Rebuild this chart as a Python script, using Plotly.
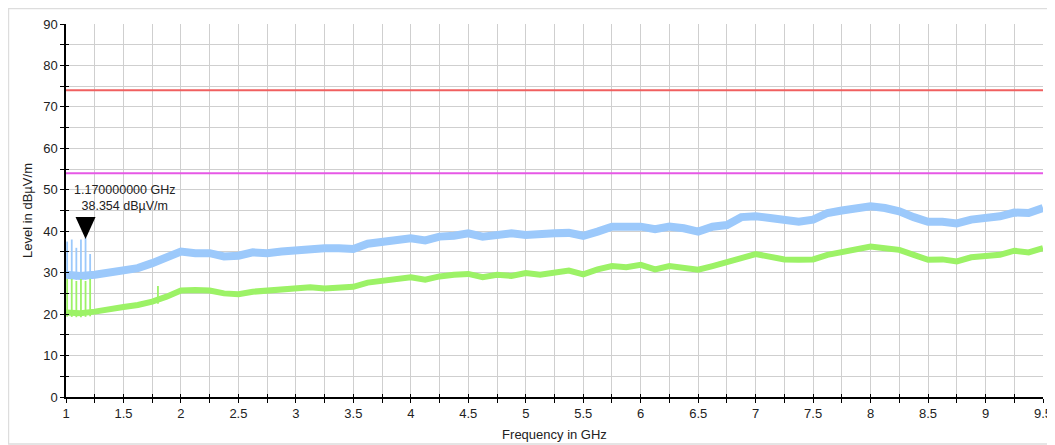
import plotly.graph_objects as go

# ---------------- data ----------------
freq_ghz = [1.0, 1.125, 1.25, 1.375, 1.5, 1.625, 1.75, 1.875, 2.0, 2.125, 2.25, 2.375,
            2.5, 2.625, 2.75, 2.875, 3.0, 3.125, 3.25, 3.375, 3.5, 3.625, 3.75, 3.875,
            4.0, 4.125, 4.25, 4.375, 4.5, 4.625, 4.75, 4.875, 5.0, 5.125, 5.25, 5.375,
            5.5, 5.625, 5.75, 5.875, 6.0, 6.125, 6.25, 6.375, 6.5, 6.625, 6.75, 6.875,
            7.0, 7.125, 7.25, 7.375, 7.5, 7.625, 7.75, 7.875, 8.0, 8.125, 8.25, 8.375,
            8.5, 8.625, 8.75, 8.875, 9.0, 9.125, 9.25, 9.375, 9.5]

peak_level = [29.5, 29.2, 29.5, 29.9, 30.5, 31.1, 32.3, 33.9, 35.1, 34.7, 34.7, 33.9,
              34.1, 34.9, 34.7, 35.1, 35.5, 35.7, 35.9, 35.9, 35.7, 37.0, 37.5, 38.1,
              38.3, 37.8, 38.7, 38.9, 39.5, 38.7, 39.1, 39.5, 39.1, 39.5, 39.5, 39.6,
              38.9, 39.9, 41.1, 41.1, 41.1, 40.5, 41.1, 40.7, 39.9, 41.1, 41.5, 43.4,
              43.6, 43.2, 42.6, 42.3, 42.8, 44.4, 45.0, 45.3, 46.0, 45.6, 44.8, 43.4,
              42.3, 42.3, 41.9, 42.8, 43.0, 43.6, 44.5, 44.4, 45.6]

avg_level = [20.4, 20.2, 20.6, 21.0, 21.7, 22.2, 23.0, 24.2, 25.7, 25.8, 25.7, 25.0,
             24.8, 25.4, 25.7, 26.0, 26.2, 26.5, 26.2, 26.5, 26.6, 27.6, 28.1, 28.4,
             28.9, 28.3, 29.1, 29.5, 29.7, 28.9, 29.5, 29.2, 29.9, 29.5, 29.9, 30.5,
             29.6, 30.8, 31.6, 31.3, 31.9, 30.8, 31.6, 31.3, 30.7, 31.6, 32.4, 33.5,
             34.5, 33.7, 33.2, 33.1, 33.2, 34.3, 34.9, 35.5, 36.3, 35.9, 35.5, 34.3,
             33.1, 33.2, 32.7, 33.7, 33.9, 34.3, 35.3, 34.9, 35.9]

spike_freq = [1.01, 1.05, 1.09, 1.13, 1.17, 1.21]
peak_spike_top = [37.5, 38.0, 36.0, 38.0, 38.354, 34.5]
avg_spike_top = [28.5, 28.5, 28.0, 28.5, 28.0, 28.5]
avg_extra_spike_freq = [1.80]
avg_extra_spike_top = [26.8]

limit_qp = 74.0
limit_av = 54.0

marker_freq = 1.17
marker_level = 38.354

x_range = [1, 9.5]
y_range = [0, 90]

# ---------------- colours ----------------
C_PEAK = "#9cc9fb"
C_AVG = "#9cf266"
C_QP = "#f06060"
C_AV = "#e658e6"
GRID = "#cfcfcf"
FONT = "Liberation Sans, Arial, sans-serif"
FS = 13


def interp(xs, ys, x):
    for i in range(len(xs) - 1):
        if xs[i] <= x <= xs[i + 1]:
            t = (x - xs[i]) / (xs[i + 1] - xs[i])
            return ys[i] + t * (ys[i + 1] - ys[i])
    return ys[-1]


def spikes(freqs, tops, base_x, base_y):
    xs, ys = [], []
    for f, top in zip(freqs, tops):
        b = interp(base_x, base_y, f) - 1.0
        xs += [f, f, None]
        ys += [b, top, None]
    return xs, ys


fig = go.Figure()

# limit lines
fig.add_trace(go.Scatter(x=x_range, y=[limit_qp, limit_qp], mode="lines",
                         line=dict(color=C_QP, width=2), hoverinfo="skip", showlegend=False))
fig.add_trace(go.Scatter(x=x_range, y=[limit_av, limit_av], mode="lines",
                         line=dict(color=C_AV, width=2), hoverinfo="skip", showlegend=False))

# peak trace
sx, sy = spikes(spike_freq, peak_spike_top, freq_ghz, peak_level)
fig.add_trace(go.Scatter(x=sx, y=sy, mode="lines", line=dict(color=C_PEAK, width=1.8),
                         hoverinfo="skip", showlegend=False))
fig.add_trace(go.Scatter(x=freq_ghz, y=peak_level, mode="lines",
                         line=dict(color=C_PEAK, width=8), showlegend=False))

# average trace
sx, sy = spikes(spike_freq + avg_extra_spike_freq, avg_spike_top + avg_extra_spike_top,
                freq_ghz, avg_level)
fig.add_trace(go.Scatter(x=sx, y=sy, mode="lines", line=dict(color=C_AVG, width=1.8),
                         hoverinfo="skip", showlegend=False))
fig.add_trace(go.Scatter(x=freq_ghz, y=avg_level, mode="lines",
                         line=dict(color=C_AVG, width=6), showlegend=False))

# marker triangle (pixel-sized shape anchored on the marker data point)
fig.add_shape(type="path", xref="x", yref="y", xsizemode="pixel", ysizemode="pixel",
              xanchor=marker_freq, yanchor=marker_level,
              path="M -10,21 L 10,21 L 0,-1 Z", fillcolor="black", line=dict(width=0))

fig.add_annotation(x=marker_freq, y=marker_level, xref="x", yref="y",
                   text=f"{marker_freq:.9f} GHz<br>{marker_level:.3f} dBµV/m",
                   showarrow=False, xanchor="center", yanchor="bottom",
                   xshift=39, yshift=23, align="center",
                   font=dict(family=FONT, size=12.5, color="#222222"))

# outer light border
fig.add_shape(type="rect", xref="paper", yref="paper", x0=-0.0589, x1=1.0072,
              y0=-0.126, y1=1.0416, line=dict(color="#dddddd", width=1.5), layer="below")

axis_common = dict(showline=True, linecolor="black", linewidth=1.5, ticks="outside",
                   ticklen=4, tickcolor="black", tickwidth=1.2, showgrid=True,
                   gridcolor=GRID, gridwidth=1, zeroline=False, automargin=False,
                   tickfont=dict(family=FONT, size=FS, color="#222222"))

fig.update_layout(
    width=1047, height=437,
    margin=dict(l=58, r=12, t=16, b=48, autoexpand=False),
    paper_bgcolor="white", plot_bgcolor="white",
    font=dict(family=FONT, size=FS, color="#222222"),
    xaxis=dict(range=x_range, dtick=0.5, tick0=1,
               minor=dict(dtick=0.25, ticks="outside", ticklen=4, tickcolor="black",
                          showgrid=True, gridcolor=GRID, gridwidth=1),
               title=dict(text="Frequency in GHz", standoff=10,
                          font=dict(family=FONT, size=FS)),
               **axis_common),
    yaxis=dict(range=y_range, dtick=10, tick0=0,
               minor=dict(dtick=5, ticks="outside", ticklen=4, tickcolor="black",
                          showgrid=True, gridcolor=GRID, gridwidth=1),
               title=dict(text="Level in dBµV/m", standoff=8,
                          font=dict(family=FONT, size=FS)),
               **axis_common),
    xaxis2=dict(overlaying="x", matches="x", range=x_range, dtick=0.25, tick0=1,
                ticks="inside", ticklen=3, tickcolor="black", showticklabels=False,
                showgrid=False, zeroline=False, side="bottom", anchor="y",
                automargin=False),
    yaxis2=dict(overlaying="y", matches="y", range=y_range, dtick=5, tick0=0,
                ticks="inside", ticklen=3, tickcolor="black", showticklabels=False,
                showgrid=False, zeroline=False, side="left", anchor="x",
                automargin=False),
)

# invisible trace to activate the inside-tick overlay axes
fig.add_trace(go.Scatter(x=[x_range[0]], y=[y_range[0]], xaxis="x2", yaxis="y2",
                         mode="markers", marker=dict(opacity=0), hoverinfo="skip",
                         showlegend=False))

fig.write_html("out.html")
